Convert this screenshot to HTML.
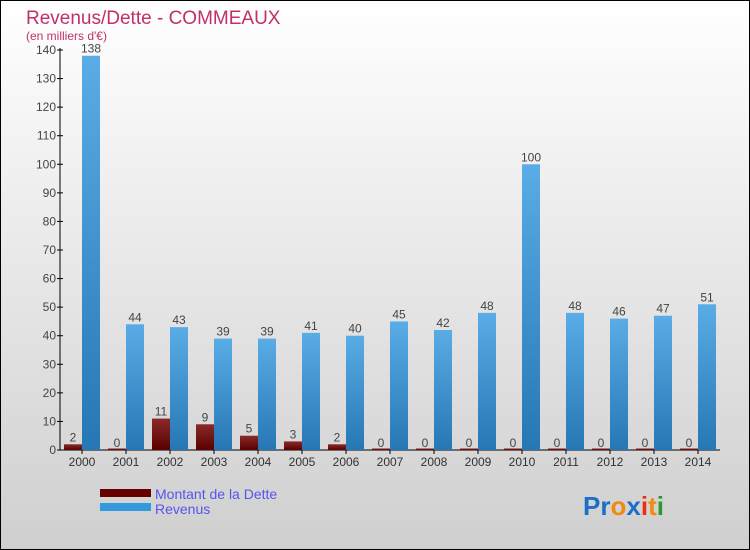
<!DOCTYPE html>
<html><head><meta charset="utf-8"><style>
body{margin:0;}
#c{width:750px;height:550px;position:relative;box-sizing:border-box;border:1px solid #000;background:linear-gradient(#fff,#cfcfcf);font-family:"Liberation Sans",sans-serif;overflow:hidden;}
</style></head><body>
<div id="c">
<svg width="750" height="550" style="position:absolute;left:-1px;top:-1px" id="s">
<defs>
<linearGradient id="gb" x1="0" y1="0" x2="0" y2="1"><stop offset="0" stop-color="#5aace6"/><stop offset="1" stop-color="#2677b4"/></linearGradient>
<linearGradient id="gr" x1="0" y1="0" x2="0" y2="1"><stop offset="0" stop-color="#8a2a2a"/><stop offset="1" stop-color="#5a0000"/></linearGradient>
</defs>
<text x="26" y="24" font-size="19" fill="#c0306a">Revenus/Dette - COMMEAUX</text>
<text x="26" y="40" font-size="12" fill="#c0306a">(en milliers d'€)</text>
<g id="g"></g>
<rect x="100" y="489" width="51" height="8" fill="#660000"/>
<rect x="100" y="503" width="51" height="8" fill="#3399dd"/>
<text x="155" y="499" font-size="14" fill="#5555ee">Montant de la Dette</text>
<text x="155" y="514" font-size="14" fill="#5555ee">Revenus</text>
<text x="583" y="515" font-size="26" font-weight="bold"><tspan fill="#1a70c8">Pr</tspan><tspan fill="#f08a10">o</tspan><tspan fill="#1a70c8">x</tspan><tspan fill="#e83010">i</tspan><tspan fill="#f08a10">t</tspan><tspan fill="#2a9a30">i</tspan></text>
</svg>
</div>
<script>
const years=["2000","2001","2002","2003","2004","2005","2006","2007","2008","2009","2010","2011","2012","2013","2014"];
const debt=[2,0,11,9,5,3,2,0,0,0,0,0,0,0,0];
const revenue=[138,44,43,39,39,41,40,45,42,48,100,48,46,47,51];
const ticks=[0,10,20,30,40,50,60,70,80,90,100,110,120,130,140];
const NS="http://www.w3.org/2000/svg",g=document.getElementById('g');
const y=v=>450-v*400/140, cx=i=>82+44*i;
function mk(t,a,txt){const e=document.createElementNS(NS,t);for(const k in a)e.setAttribute(k,a[k]);if(txt!==undefined)e.textContent=txt;g.appendChild(e);return e;}
let e=mk('line',{x1:60,y1:48,x2:60,y2:450,stroke:'#000'});

e=mk('line',{x1:60,y1:450,x2:720,y2:450,stroke:'#000'});

ticks.forEach(t=>{mk('line',{x1:57,y1:y(t),x2:63,y2:y(t),stroke:'#000'});
e=mk('text',{x:56,y:y(t)+4,'font-size':12,'text-anchor':'end',fill:'#444'},t);
});
years.forEach((yr,i)=>{const c=cx(i);
mk('line',{x1:c,y1:450,x2:c,y2:454,stroke:'#000'});
e=mk('text',{x:c,y:466,'font-size':12,'text-anchor':'middle',fill:'#333'},yr);

const hd=Math.max(debt[i]*400/140,1.5);
e=mk('rect',{x:c-18,y:450-hd,width:18,height:hd,fill:'url(#gr)'});

e=mk('text',{x:c-9,y:y(debt[i])-3,'font-size':12,'text-anchor':'middle',fill:'#444'},debt[i]);

e=mk('rect',{x:c,y:y(revenue[i]),width:18,height:450-y(revenue[i]),fill:'url(#gb)'});

e=mk('text',{x:c+9,y:y(revenue[i])-3,'font-size':12,'text-anchor':'middle',fill:'#444'},revenue[i]);
});
</script>
</body></html>
